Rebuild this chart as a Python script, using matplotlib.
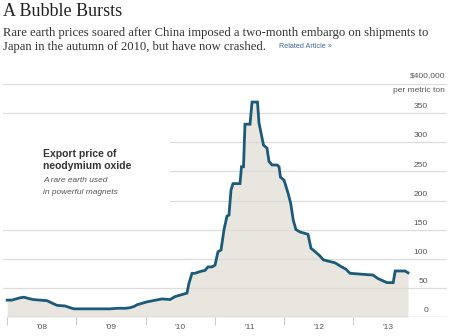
import matplotlib
matplotlib.use("Agg")
import matplotlib.pyplot as plt
from matplotlib.patches import Rectangle
import matplotlib.transforms as mtransforms

# ---- data (decimal year, thousand $ per metric ton) ----
years = [2008.000, 2008.069, 2008.127, 2008.185, 2008.243, 2008.301, 2008.373,
         2008.474, 2008.575, 2008.647, 2008.720, 2008.835, 2008.908, 2008.965,
         2009.486, 2009.601, 2009.717, 2009.775, 2009.832, 2009.876, 2010.020,
         2010.107, 2010.237, 2010.353, 2010.425, 2010.540, 2010.598, 2010.627,
         2010.671, 2010.714, 2010.786, 2010.858, 2010.902, 2010.960, 2011.003,
         2011.046, 2011.090, 2011.133, 2011.176, 2011.205, 2011.234, 2011.263,
         2011.364, 2011.386, 2011.415, 2011.436, 2011.509, 2011.538, 2011.617,
         2011.639, 2011.668, 2011.704, 2011.754, 2011.783, 2011.827, 2011.899,
         2011.928, 2011.949, 2012.000, 2012.058, 2012.097, 2012.134, 2012.173,
         2012.231, 2012.347, 2012.390, 2012.451, 2012.509, 2012.571, 2012.737,
         2012.834, 2012.896, 2012.954, 2013.286, 2013.358, 2013.431, 2013.491,
         2013.578, 2013.607, 2013.749, 2013.792]
prices = [29, 29, 31, 33, 34, 32, 30,
          29, 28, 24, 20, 19, 16, 14,
          14, 15, 15, 16, 18, 21, 26,
          28, 31, 30, 35, 39, 41, 58,
          75, 75, 78, 80, 86, 86, 89,
          112, 115, 150, 173, 175, 218, 229,
          229, 258, 258, 331, 331, 369, 369,
          333, 316, 295, 290, 267, 261, 261,
          258, 240, 235, 213, 195, 166, 150,
          146, 142, 118, 112, 106, 98, 93,
          86, 82, 75, 72, 66, 62, 59,
          59, 79, 79, 76]
y_ticks = [0, 50, 100, 150, 200, 250, 300, 350]
year_starts = [2008, 2009, 2010, 2011, 2012, 2013]
year_labels = ["'08", "'09", "'10", "'11", "'12", "'13"]

W, H = 450, 336
fig = plt.figure(figsize=(W / 100, H / 100), dpi=100)
fig.patch.set_facecolor("white")

def fx(px):
    return px / W

def fy(py):
    return 1 - py / H

ax = fig.add_axes([fx(3), 19 / H, 444 / W, 233 / H])
x0 = 2008 + (3 - 7.2) / 69.2
x1 = 2008 + (447 - 7.2) / 69.2
ax.set_xlim(x0, x1)
ax.set_ylim(0, 400)
for s in ax.spines.values():
    s.set_visible(False)
ax.set_yticks([])
ax.set_xticks(year_starts)
ax.set_xticklabels([])
ax.tick_params(axis="x", length=6, width=0.8, color="#cccccc", direction="out")
ax.set_xticks([y + 0.5 for y in year_starts], minor=True)
ax.set_xticklabels(year_labels, minor=True)
ax.tick_params(axis="x", which="minor", length=0, pad=5, labelsize=6, labelcolor="#555555")
for lab in ax.get_xticklabels(minor=True):
    lab.set_family("Liberation Sans")

# fill and line
ax.fill_between(years, prices, 0, color="#e8e6df", lw=0, zorder=1)

# gridlines
for v in [50, 100, 150, 200, 250, 300, 350, 400]:
    ax.axhline(v, color="#dcdcdc", lw=0.9, zorder=2)
ax.axhline(0, color="#c4c4c4", lw=1.0, zorder=2)

# white box behind annotation
ax.add_patch(Rectangle((0, 175 / 400), (170 - 3) / 444, (341 - 175) / 400,
                       transform=ax.transAxes, facecolor="white", edgecolor="none", zorder=3))

ax.plot(years, prices, color="#1b5a78", lw=2.0, zorder=4, solid_joinstyle="miter")

# y labels (right, above gridlines)
trans = mtransforms.blended_transform_factory(ax.transAxes, ax.transData)
for v in y_ticks:
    ax.annotate(str(v), xy=((428 - 3) / 444, v), xycoords=trans,
                xytext=(0, 2), textcoords="offset points",
                ha="right", va="bottom", fontsize=6, color="#555555",
                family="Liberation Sans", zorder=5)

# header texts
fig.text(fx(3), fy(12), "A Bubble Bursts", fontsize=13, family="Liberation Serif",
         color="#222222", va="center", ha="left")
fig.text(fx(3), fy(33), "Rare earth prices soared after China imposed a two-month embargo on shipments to",
         fontsize=9.1, family="Liberation Serif", color="#333333", va="center", ha="left")
fig.text(fx(3), fy(47), "Japan in the autumn of 2010, but have now crashed.",
         fontsize=9.1, family="Liberation Serif", color="#333333", va="center", ha="left")
fig.text(fx(279), fy(47), "Related Article \u00bb", fontsize=5.2, family="Liberation Sans",
         color="#3a6a9a", va="center", ha="left")

fig.text(fx(445), fy(76), "$400,000", fontsize=6, family="Liberation Sans",
         color="#555555", va="center", ha="right")
fig.text(fx(445), fy(91), "per metric ton", fontsize=6, family="Liberation Sans",
         color="#555555", va="center", ha="right")

# annotation
fig.text(fx(43), fy(154), "Export price of", fontsize=7.5, family="Liberation Sans",
         weight="bold", color="#333333", va="center", ha="left")
fig.text(fx(43), fy(166), "neodymium oxide", fontsize=7.5, family="Liberation Sans",
         weight="bold", color="#333333", va="center", ha="left")
fig.text(fx(43), fy(180), "A rare earth used", fontsize=6, family="Liberation Sans",
         style="italic", color="#555555", va="center", ha="left")
fig.text(fx(43), fy(192), "in powerful magnets", fontsize=6, family="Liberation Sans",
         style="italic", color="#555555", va="center", ha="left")

fig.savefig("out.png", dpi=100)
